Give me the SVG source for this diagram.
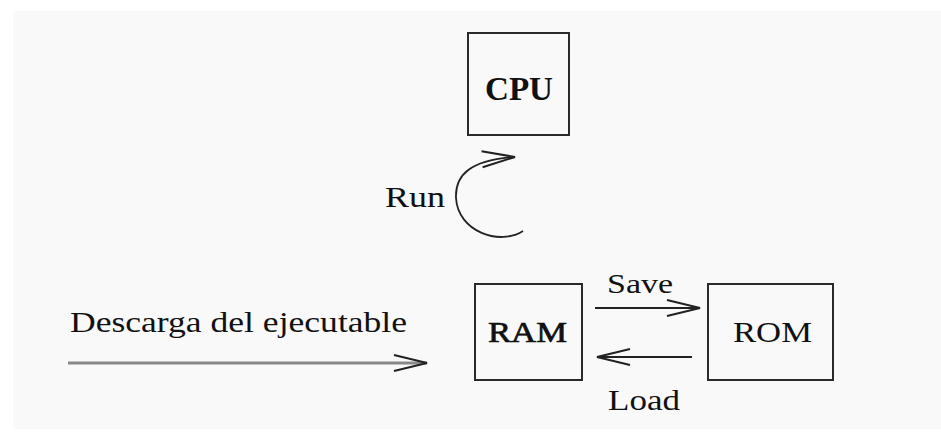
<svg xmlns="http://www.w3.org/2000/svg" width="941" height="445" viewBox="0 0 941 445">
<style>
.box{fill:none;stroke:#2a2a2a;stroke-width:2}
.lbl{font-family:"Liberation Serif","Times New Roman",serif;fill:#111}
.conn{fill:none;stroke:#222;stroke-width:1.8}
</style>
<defs>
<marker id="arr" viewBox="-36 -10 40 20" refX="0" refY="0" markerWidth="40" markerHeight="20" markerUnits="userSpaceOnUse" orient="auto" overflow="visible">
<path d="M-33,-8 L0,0 L-33,8" fill="none" stroke="#222" stroke-width="2"/>
</marker>
</defs>
<rect x="0" y="0" width="941" height="445" fill="#ffffff"/>
<rect x="13" y="11" width="928" height="418" fill="#f9f9f9"/>
<g id="cpu">
<rect class="box" x="468" y="33" width="101" height="102"/>
<text class="lbl" x="485" y="100" font-size="33" font-weight="bold" textLength="68" lengthAdjust="spacingAndGlyphs">CPU</text>
</g>
<g id="ram">
<rect class="box" x="475" y="284" width="107" height="96"/>
<text class="lbl" x="488" y="342" font-size="30" stroke="#111" stroke-width="0.7" textLength="79" lengthAdjust="spacingAndGlyphs">RAM</text>
</g>
<g id="rom">
<rect class="box" x="708" y="284" width="125" height="96"/>
<text class="lbl" x="733" y="342" font-size="30" textLength="79" lengthAdjust="spacingAndGlyphs">ROM</text>
</g>
<g id="connectors">
<path class="conn" d="M523,231 C500,246 458,232 456,198 C455,175 470,160 515,157" marker-end="url(#arr)"/>
<path d="M68,363 L427,363" fill="none" stroke="#888" stroke-width="3" marker-end="url(#arr)"/>
<path class="conn" d="M595,308 L700,308" marker-end="url(#arr)"/>
<path class="conn" d="M692,357 L597,357" marker-end="url(#arr)"/>
</g>
<g id="labels">
<text class="lbl" x="385" y="207" font-size="29" textLength="60" lengthAdjust="spacingAndGlyphs">Run</text>
<text class="lbl" x="70" y="332" font-size="29" textLength="337" lengthAdjust="spacingAndGlyphs">Descarga del ejecutable</text>
<text class="lbl" x="607" y="293" font-size="27" textLength="66" lengthAdjust="spacingAndGlyphs">Save</text>
<text class="lbl" x="608" y="410" font-size="29" textLength="72" lengthAdjust="spacingAndGlyphs">Load</text>
</g>
</svg>
